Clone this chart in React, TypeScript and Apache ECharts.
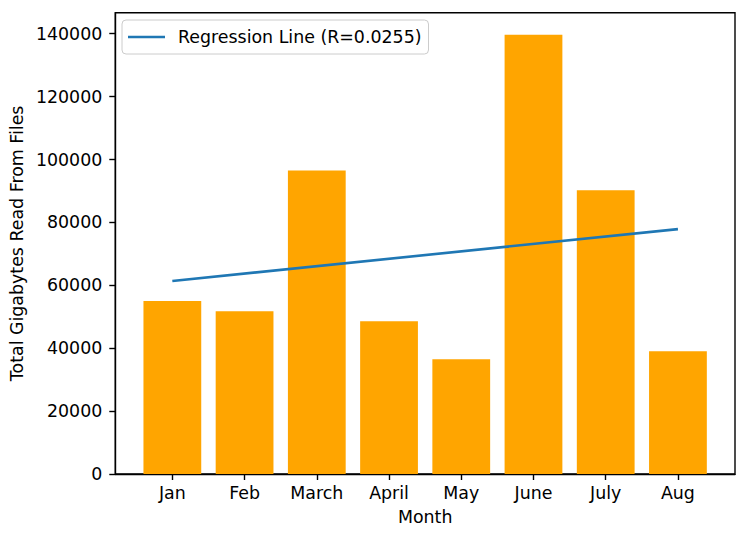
import React, { useEffect, useRef } from "react";
import * as echarts from "echarts";

const months = ["Jan", "Feb", "March", "April", "May", "June", "July", "Aug"];
const totals = [55000, 51750, 96500, 48570, 36500, 139700, 90200, 39050];
const regressionLabel = "Regression Line (R=0.0255)";
const regressionStart = 61365;
const regressionEnd = 77870;
const yTicks = [0, 20000, 40000, 60000, 80000, 100000, 120000, 140000];

const FONT = "DejaVu Sans";
const FS = 17.4;

export default function App() {
  const ref = useRef<HTMLDivElement>(null);
  useEffect(() => {
    if (!ref.current) return;
    const chart = echarts.init(ref.current, null, { renderer: "svg" });
    const n = months.length;
    const idx = months.map((_, i) => i);
    const maxVal = Math.max(...totals) * 1.05;
    chart.setOption({
      animation: false,
      grid: {
        left: 114,
        right: 13,
        top: 12.7,
        bottom: 66,
        show: true,
        borderColor: "#000",
        borderWidth: 1.4,
      },
      legend: {
        data: [{ name: regressionLabel, icon: "rect" }],
        left: 122,
        top: 20,
        orient: "vertical",
        padding: [7, 7, 7, 6],
        itemWidth: 37,
        itemHeight: 2.6,
        borderColor: "#cccccc",
        borderWidth: 1,
        borderRadius: 4,
        backgroundColor: "rgba(255,255,255,0.8)",
        textStyle: { fontFamily: FONT, fontSize: FS, color: "#000", padding: [0, 0, 0, 8], lineHeight: 20 },
      },
      xAxis: {
        type: "value",
        min: -0.4 - 0.05 * (n - 0.2),
        max: n - 1 + 0.4 + 0.05 * (n - 0.2),
        name: "Month",
        nameLocation: "middle",
        nameGap: 34,
        nameTextStyle: { fontFamily: FONT, fontSize: FS, color: "#000" },
        splitLine: { show: false },
        axisLine: { show: true, onZero: false, lineStyle: { color: "#000", width: 1.4 } },
        axisTick: { show: true, length: 6, customValues: idx, lineStyle: { color: "#000", width: 1.4 } },
        axisLabel: {
          customValues: idx,
          formatter: (v: number) => months[Math.round(v)] ?? "",
          fontFamily: FONT,
          fontSize: FS,
          color: "#000",
          margin: 10,
        },
      },
      yAxis: {
        type: "value",
        min: 0,
        max: maxVal,
        name: "Total Gigabytes Read From Files",
        nameLocation: "middle",
        nameGap: 77,
        nameTextStyle: { fontFamily: FONT, fontSize: FS, color: "#000" },
        splitLine: { show: false },
        axisLine: { show: true, onZero: false, lineStyle: { color: "#000", width: 1.4 } },
        axisTick: { show: true, length: 6, customValues: yTicks, lineStyle: { color: "#000", width: 1.4 } },
        axisLabel: {
          customValues: yTicks,
          formatter: (v: number) => String(Math.round(v)),
          fontFamily: FONT,
          fontSize: FS,
          color: "#000",
          margin: 13,
        },
      },
      series: [
        {
          type: "custom",
          name: "Total",
          data: totals.map((v, i) => [i, v]),
          renderItem: (params: any, api: any) => {
            const x = api.value(0);
            const y = api.value(1);
            const top = api.coord([x - 0.4, y]);
            const bottom = api.coord([x + 0.4, 0]);
            return {
              type: "rect",
              shape: { x: top[0], y: top[1], width: bottom[0] - top[0], height: bottom[1] - top[1] },
              style: { fill: "#FFA500" },
            };
          },
          encode: { x: 0, y: 1 },
          z: 2,
        },
        {
          type: "line",
          name: regressionLabel,
          data: [
            [0, regressionStart],
            [n - 1, regressionEnd],
          ],
          symbol: "none",
          lineStyle: { color: "#1f77b4", width: 2.6 },
          itemStyle: { color: "#1f77b4" },
          z: 5,
        },
      ],
    });
    return () => chart.dispose();
  }, []);
  return (
    <div
      ref={ref}
      style={{ position: "fixed", left: 0, top: 0, width: 748, height: 540, background: "#fff" }}
    />
  );
}
